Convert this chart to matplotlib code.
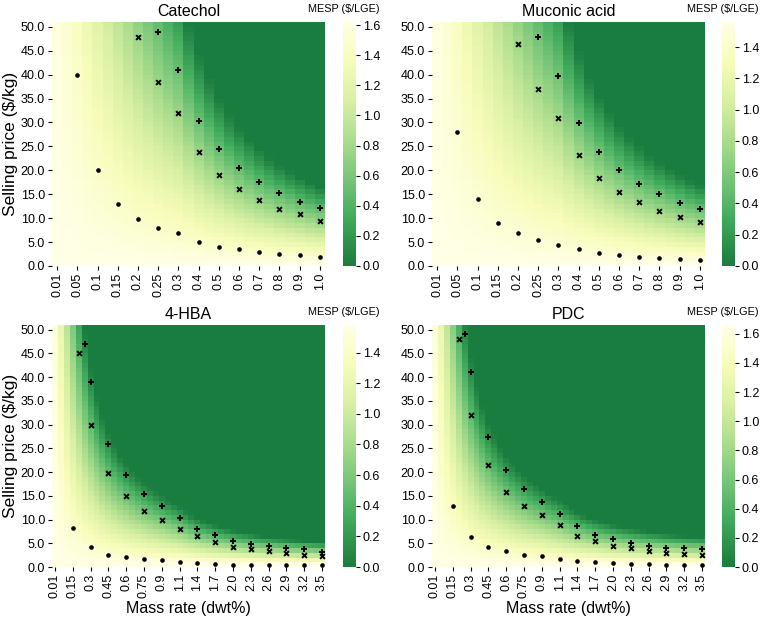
import numpy as np
import matplotlib
matplotlib.use("Agg")
import matplotlib.pyplot as plt
from matplotlib.colors import LinearSegmentedColormap

plt.rcParams['font.family'] = ['Liberation Sans', 'DejaVu Sans']

# ---- grid categories ----
PRICES = list(range(51))  # selling price rows, $/kg

RATE_LOW = [0.01, 0.03, 0.05, 0.075, 0.1, 0.125, 0.15, 0.175, 0.2, 0.225, 0.25, 0.275,
            0.3, 0.35, 0.4, 0.45, 0.5, 0.55, 0.6, 0.65, 0.7, 0.75, 0.8, 0.85, 0.9, 0.95, 1.0]
TICKS_LOW = [0.01, 0.05, 0.1, 0.15, 0.2, 0.25, 0.3, 0.4, 0.5, 0.6, 0.7, 0.8, 0.9, 1.0]

RATE_HIGH = [0.01, 0.057, 0.103, 0.15, 0.2, 0.25, 0.3, 0.35, 0.4, 0.45, 0.5, 0.55, 0.6,
             0.65, 0.7, 0.75, 0.8, 0.85, 0.9, 0.967, 1.033, 1.1, 1.2, 1.3, 1.4, 1.5, 1.6,
             1.7, 1.8, 1.9, 2.0, 2.1, 2.2, 2.3, 2.4, 2.5, 2.6, 2.7, 2.8, 2.9, 3.0, 3.1,
             3.2, 3.3, 3.4, 3.5]
TICKS_HIGH = [0.01, 0.15, 0.3, 0.45, 0.6, 0.75, 0.9, 1.1, 1.4, 1.7, 2.0, 2.3, 2.6, 2.9, 3.2, 3.5]

# ---- markers (rate, price) ----
LOW_DOT_RATES = [0.05, 0.1, 0.15, 0.2, 0.25, 0.3, 0.4, 0.5, 0.6, 0.7, 0.8, 0.9, 1.0]
LOW_X_RATES = [0.2, 0.25, 0.3, 0.4, 0.5, 0.6, 0.7, 0.8, 0.9, 1.0]
LOW_PLUS_RATES = [0.25, 0.3, 0.4, 0.5, 0.6, 0.7, 0.8, 0.9, 1.0]

HIGH_DOT_RATES = [0.15, 0.3, 0.45, 0.6, 0.75, 0.9, 1.1, 1.4, 1.7, 2.0, 2.3, 2.6, 2.9, 3.2, 3.5]
HIGH_X_RATES = [0.2, 0.3, 0.45, 0.6, 0.75, 0.9, 1.1, 1.4, 1.7, 2.0, 2.3, 2.6, 2.9, 3.2, 3.5]
HIGH_PLUS_RATES = [0.25, 0.3, 0.45, 0.6, 0.75, 0.9, 1.1, 1.4, 1.7, 2.0, 2.3, 2.6, 2.9, 3.2, 3.5]

CATECHOL_DOTS = [39.9, 20.0, 13.0, 9.9, 8.0, 7.0, 5.0, 4.0, 3.5, 2.9, 2.5, 2.2, 1.95]
CATECHOL_X = [47.9, 38.5, 31.9, 23.9, 19.1, 16.0, 13.8, 12.0, 10.8, 9.5]
CATECHOL_PLUS = [48.9, 41.0, 30.4, 24.4, 20.4, 17.5, 15.2, 13.4, 12.2]

MUCONIC_DOTS = [28.0, 13.9, 9.0, 6.95, 5.5, 4.45, 3.5, 2.8, 2.2, 1.95, 1.75, 1.4, 1.2]
MUCONIC_X = [46.4, 36.9, 30.9, 23.3, 18.4, 15.4, 13.35, 11.5, 10.15, 9.2]
MUCONIC_PLUS = [47.9, 39.8, 29.9, 23.9, 20.0, 17.1, 14.95, 13.2, 12.0]

HBA_DOTS = [8.3, 4.3, 2.6, 2.05, 1.7, 1.4, 1.12, 0.8, 0.65, 0.5, 0.42, 0.36, 0.35, 0.35, 0.35]
HBA_X = [45.0, 29.9, 19.9, 14.9, 11.8, 9.8, 8.1, 6.6, 5.3, 4.2, 3.8, 3.3, 2.95, 2.6, 2.25]
HBA_PLUS = [47.0, 39.0, 25.9, 19.4, 15.4, 12.8, 10.3, 8.1, 6.8, 5.5, 4.85, 4.35, 4.0, 3.7, 3.25]

PDC_DOTS = [12.8, 6.3, 4.3, 3.4, 2.6, 2.25, 1.6, 1.35, 1.1, 0.85, 0.7, 0.55, 0.42, 0.42, 0.42]
PDC_X = [48.0, 32.0, 21.4, 15.9, 12.8, 10.9, 8.85, 6.6, 5.5, 4.4, 3.9, 3.4, 3.0, 2.7, 2.6]
PDC_PLUS = [49.0, 41.0, 27.4, 20.4, 16.4, 13.6, 11.15, 8.7, 6.8, 5.9, 5.05, 4.5, 4.1, 3.9, 3.8]

# ---- MESP surface: value at zero price and break-even revenue (rate*price) ----
MESP_MAX = [1.62, 1.56, 1.58, 1.66]
BREAKEVEN_LO = [18.5, 18.5, 12.0, 12.5]
BREAKEVEN_HI = [16.0, 16.5, 16.4, 20.0]

TITLES = ["Catechol", "Muconic acid", "4-HBA", "PDC"]

base = plt.get_cmap('YlGn')(np.linspace(0.0, 0.78, 256))[::-1]
cmap = LinearSegmentedColormap.from_list('ylgn_cut', base)

fig = plt.figure(figsize=(7.62, 6.19), dpi=100)
W, H = 762.0, 619.0


def px_axes(x0, y_top, x1, y_bot):
    return fig.add_axes([x0 / W, (H - y_bot) / H, (x1 - x0) / W, (y_bot - y_top) / H])


panels = [
    (RATE_LOW, TICKS_LOW, LOW_DOT_RATES, CATECHOL_DOTS, LOW_X_RATES, CATECHOL_X, LOW_PLUS_RATES, CATECHOL_PLUS),
    (RATE_LOW, TICKS_LOW, LOW_DOT_RATES, MUCONIC_DOTS, LOW_X_RATES, MUCONIC_X, LOW_PLUS_RATES, MUCONIC_PLUS),
    (RATE_HIGH, TICKS_HIGH, HIGH_DOT_RATES, HBA_DOTS, HIGH_X_RATES, HBA_X, HIGH_PLUS_RATES, HBA_PLUS),
    (RATE_HIGH, TICKS_HIGH, HIGH_DOT_RATES, PDC_DOTS, HIGH_X_RATES, PDC_X, HIGH_PLUS_RATES, PDC_PLUS),
]

boxes = [(52, 22, 325, 266), (432, 22, 705, 266), (52, 325, 325, 567), (432, 325, 705, 567)]
cboxes = [(343, 22, 356, 266), (722, 22, 735, 266), (343, 325, 356, 567), (722, 325, 735, 567)]

for i, (rates, ticks, dr, dp, xr, xp, pr, pp) in enumerate(panels):
    ax = px_axes(*boxes[i])
    cax = px_axes(*cboxes[i])

    r = np.array(rates)[None, :]
    p = np.array(PRICES, dtype=float)[:, None]
    be = BREAKEVEN_LO[i] + (BREAKEVEN_HI[i] - BREAKEVEN_LO[i]) * (r - r.min()) / (r.max() - r.min())
    mesp = np.clip(MESP_MAX[i] * (1 - r * p / be), 0, None)

    mesh = ax.pcolormesh(np.arange(len(rates) + 1), np.arange(len(PRICES) + 1), mesp,
                         cmap=cmap, vmin=0, vmax=MESP_MAX[i], linewidth=0, antialiased=False)
    ax.set_xlim(0, len(rates))
    ax.set_ylim(0, len(PRICES))
    for s in ax.spines.values():
        s.set_visible(False)

    col = {v: k + 0.5 for k, v in enumerate(rates)}
    ax.scatter([col[v] for v in dr], dp, marker='o', s=11, color='black', linewidths=0, zorder=3)
    ax.scatter([col[v] for v in xr], xp, marker='x', s=12, color='black', linewidths=1.4, zorder=3)
    ax.scatter([col[v] for v in pr], pp, marker='+', s=20, color='black', linewidths=1.4, zorder=3)

    ax.set_xticks([col[v] for v in ticks])
    ax.set_xticklabels([str(v) for v in ticks], rotation=90, fontsize=9)
    ax.set_yticks(range(0, 51, 5))
    ax.set_yticklabels([f"{v:.1f}" for v in range(0, 51, 5)], fontsize=9)
    ax.tick_params(length=3, width=0.8, pad=2)
    ax.set_title(TITLES[i], fontsize=11.5, pad=4)
    if i % 2 == 0:
        ax.set_ylabel("Selling price ($/kg)", fontsize=12.5, labelpad=2)
    if i >= 2:
        ax.set_xlabel("Mass rate (dwt%)", fontsize=11.5, labelpad=2)

    cb = fig.colorbar(mesh, cax=cax)
    cb.outline.set_visible(False)
    cax.yaxis.set_major_formatter(matplotlib.ticker.FormatStrFormatter('%.1f'))
    cax.tick_params(labelsize=9, length=3, width=0.8, pad=2)

    # colorbar heading sits left-shifted, like in the original
    cx0, cy0 = cboxes[i][0], cboxes[i][1]
    fig.text((cx0 - 35) / W, 1 - (cy0 - 13) / H, "MESP ($/LGE)", fontsize=7.8,
             ha='left', va='center')

fig.savefig("out.png", dpi=100)
